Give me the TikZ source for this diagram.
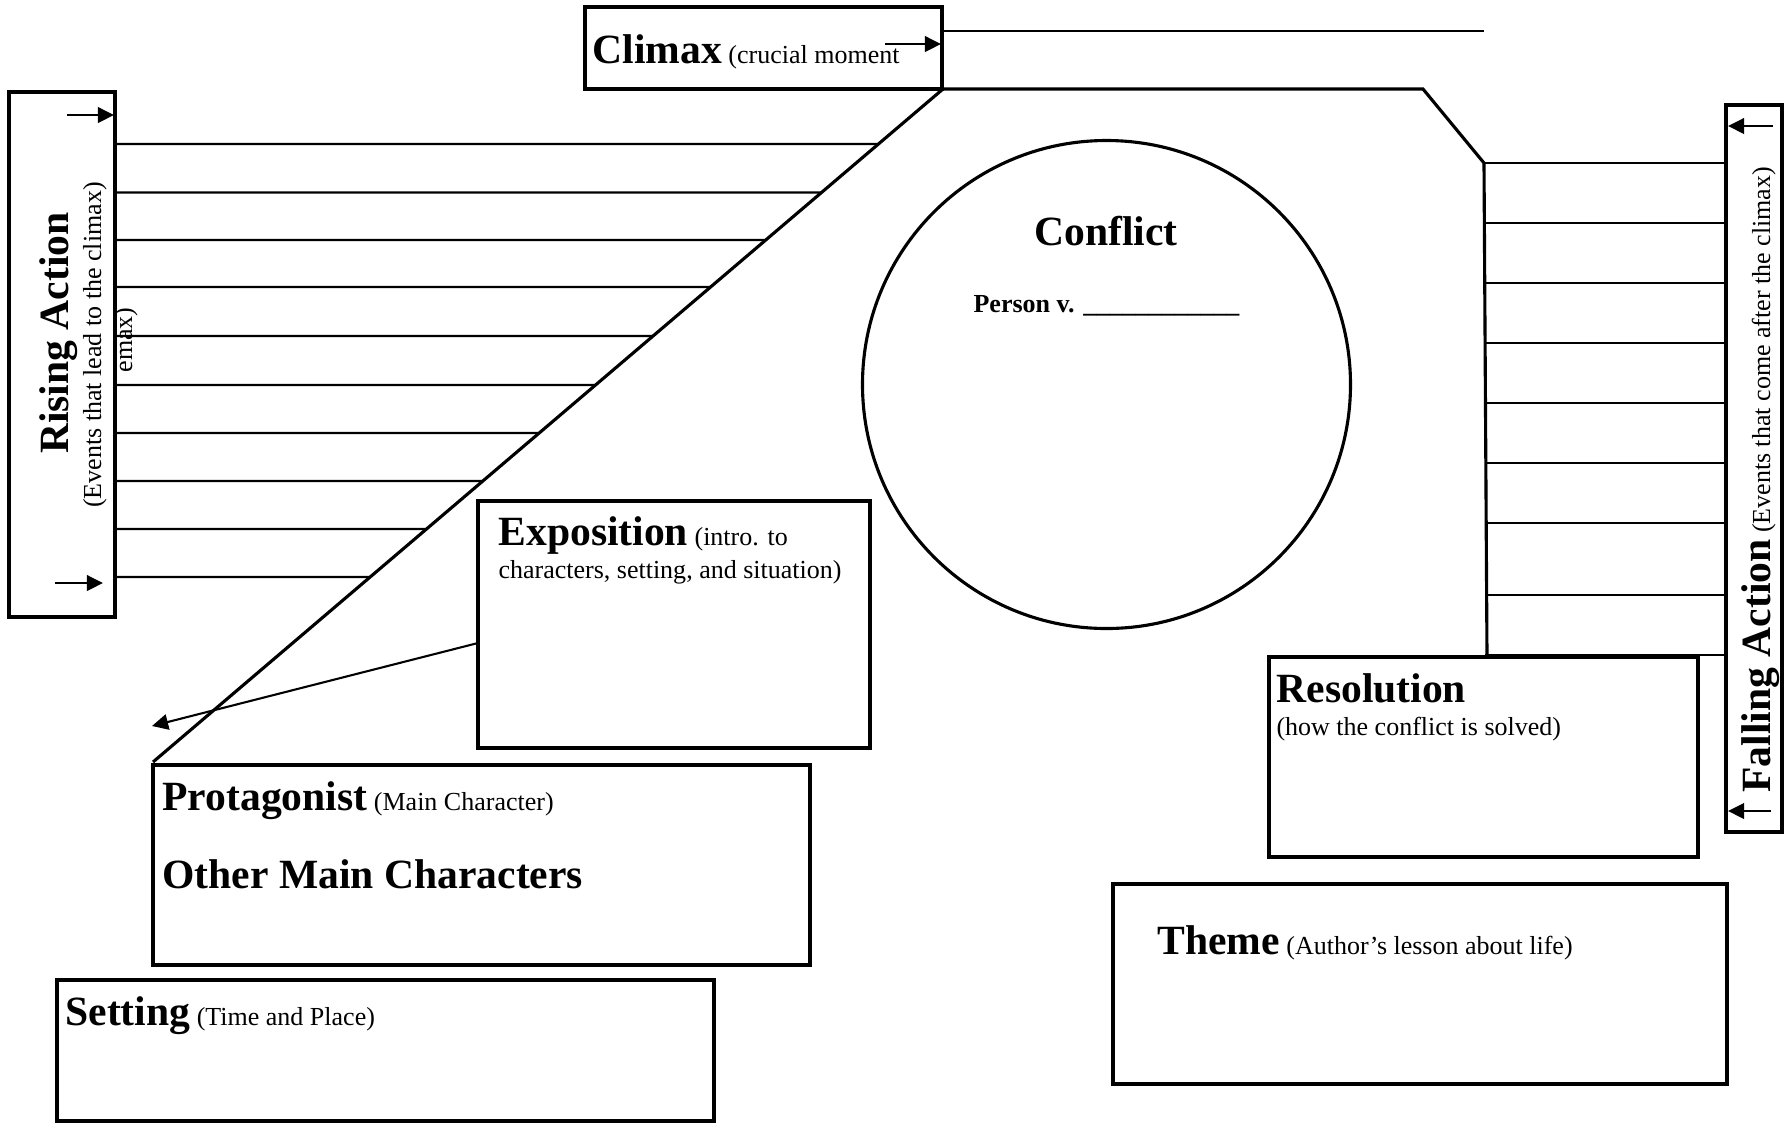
\documentclass[tikz,border=0pt]{standalone}
\usepackage{fontspec}
\setmainfont{Liberation Serif}
\usetikzlibrary{arrows.meta,calc}

\newcommand{\hd}[1]{{\fontsize{16}{19}\selectfont\bfseries #1}}

\tikzset{
  box/.style={line width=1.5pt},
  rule/.style={line width=0.8pt},
  edge/.style={line width=1.2pt},
  tip/.style={-{Triangle[length=6.2pt,width=6pt]},line width=0.8pt},
  lbl/.style={inner sep=0pt,anchor=base west,font=\fontsize{10}{12.7}\selectfont},
}

\begin{document}
\begin{tikzpicture}[x=0.3846pt,y=-0.3846pt]
    \useasboundingbox (0,0) rectangle (1786,1128);

    % boxes
    \draw[box](585,7)rectangle(942,89);
    \draw[box](9,92)rectangle(115,617);
    \draw[box](1726,105)rectangle(1782,832);
    \draw[box](478,501)rectangle(870,748);
    \draw[box](1269,657)rectangle(1698,857);
    \draw[box](153,765)rectangle(810,965);
    \draw[box](57,980)rectangle(714,1121);
    \draw[box](1113,884)rectangle(1727,1084);

    % plot line
    \coordinate (clim) at (943,89);
    \coordinate (foot) at (153,762);
    \coordinate (shoulder) at (1423,89);
    \coordinate (fallstart) at (1484,163);
    \coordinate (fallend) at (1487,655);
    \draw[edge](foot)--(clim)--(shoulder)--(fallstart)--(fallend);
    \draw[rule](942,31)--(1484,31);

    % writing lines
    \foreach \y in {144,192.5,240,287,336,385,433,481,529,577}
        \draw[rule](115,\y)--($(clim)!{(\y-89)/673}!(foot)$);
    \foreach \y in {163,223,283,343,403,463,523,595,655}
        \draw[rule](1485,\y)--(1725,\y);

    % arrows
    \draw[tip](885,44)--(941,44);
    \draw[tip](67,115)--(114,115);
    \draw[tip](55,583)--(103,583);
    \draw[tip](1773,126)--(1728,126);
    \draw[tip](1771,811)--(1728,811);
    \draw[tip](478,643)--(152,726);

    % conflict
    \draw[edge](1106.5,384.5)circle[radius=244];
    \node[inner sep=0pt,anchor=base] (conf) at (1106,245) {\hd{Conflict}};
    \node[inner sep=0pt,anchor=base,font=\fontsize{10}{12}\selectfont\bfseries] (person) at (1106.5,312)
        {Person v. \_\_\_\_\_\_\_\_\_\_\_\_};

    % labels
    \node[lbl] (climaxlbl) at (592,63) {\hd{Climax} (crucial moment};
    \node[lbl] (expo1) at (498,545) {\hd{Exposition} (intro. to};
    \node[lbl] (expo2) at ([yshift=-12.7pt]expo1.base west) {characters, setting, and situation)};
    \node[lbl] (res1) at (1276,702) {\hd{Resolution}};
    \node[lbl] (res2) at ([yshift=-12.7pt]res1.base west) {(how the conflict is solved)};
    \node[lbl] (prot1) at (162,810) {\hd{Protagonist} (Main Character)};
    \node[lbl] (prot2) at (162,888) {\hd{Other Main Characters}};
    \node[lbl] (setting) at (65,1025) {\hd{Setting} (Time and Place)};
    \node[lbl] (theme) at (1157,954) {\hd{Theme} (Author's lesson about life)};

    % side labels
    \node[rotate=90,inner sep=0pt,anchor=base] (rise1) at (69,333) {\hd{Rising Action}};
    \node[rotate=90,inner sep=0pt,anchor=base,font=\fontsize{10}{12.7}\selectfont] (rise2) at (101,345)
        {(Events that lead to the climax)};
    \node[rotate=90,lbl] (rise3) at (132,373) {emax)};
    \node[rotate=90,lbl] (fall) at (1770,793) {\hd{Falling Action} (Events that come after the climax)};
\end{tikzpicture}
\end{document}
